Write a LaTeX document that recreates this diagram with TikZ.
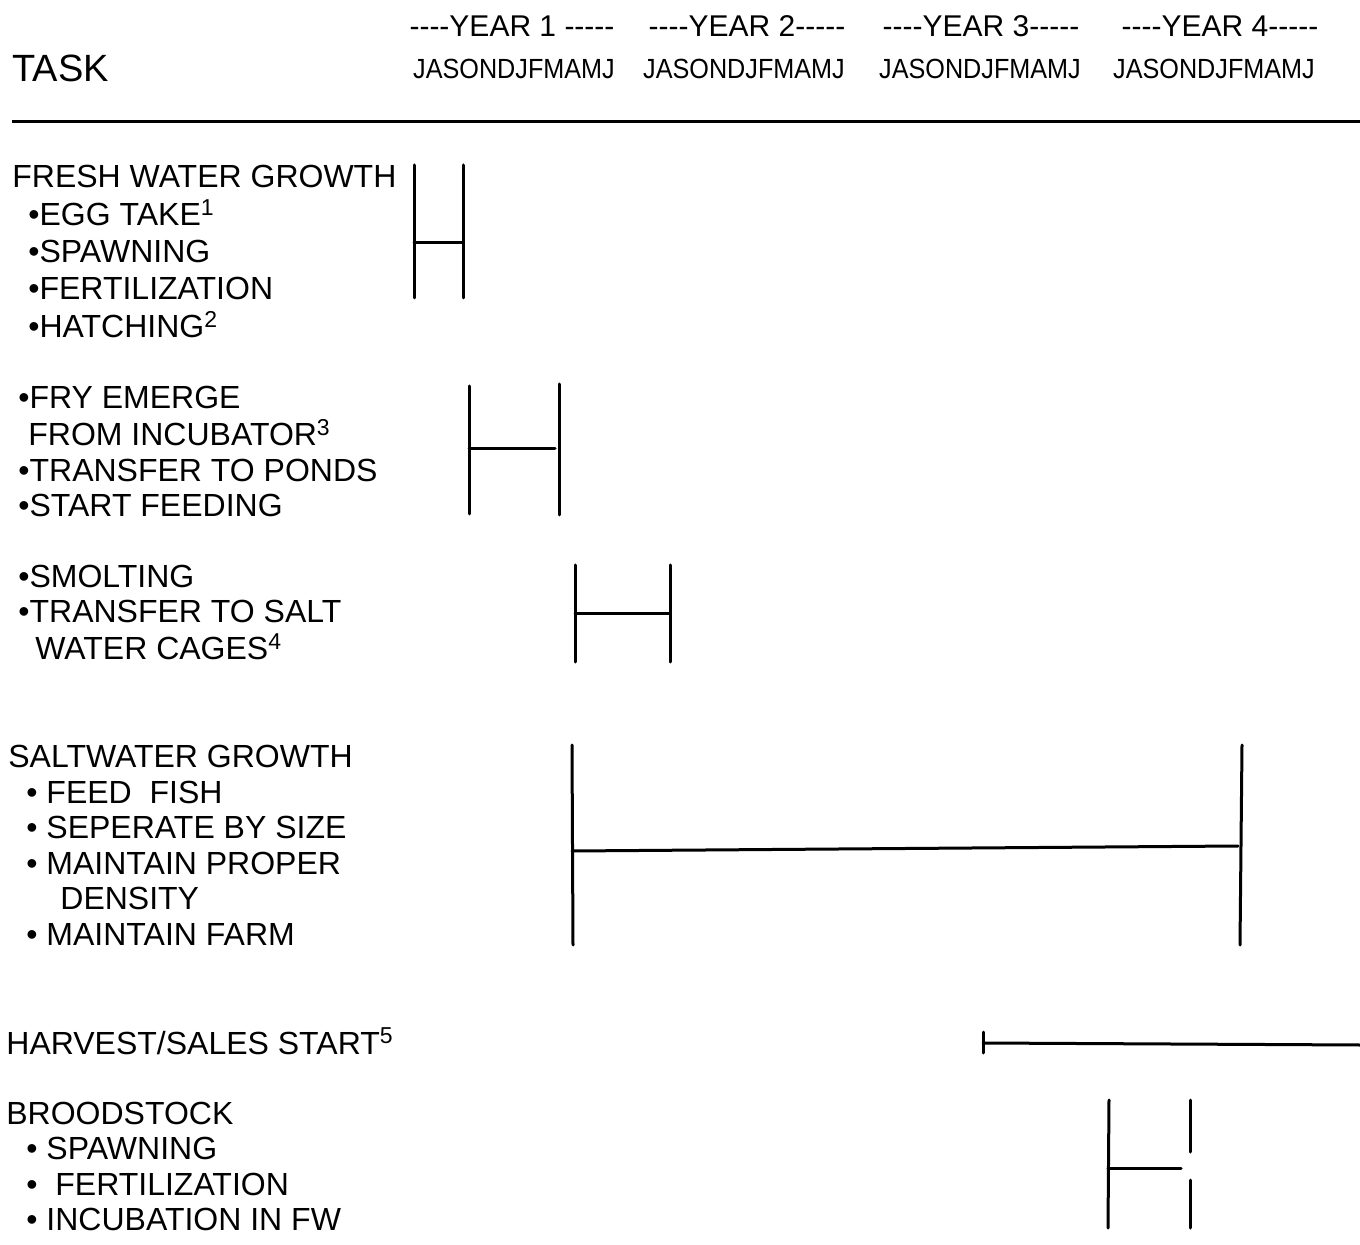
\documentclass[tikz,border=0pt]{standalone}
\usepackage{fontspec}
\setmainfont{Liberation Sans}
\newcommand{\supn}[1]{\raisebox{0.32em}{\fontsize{11.5}{12}\selectfont #1}}
\newcommand{\hy}{-{}}
\begin{document}
\begin{tikzpicture}[x=0.5pt,y=-0.5pt,
  lbl/.style={anchor=base west,inner sep=0pt,font=\fontsize{16}{19}\selectfont},
  hdr/.style={anchor=base,inner sep=0pt,font=\fontsize{15}{17}\selectfont},
  mon/.style={anchor=base,inner sep=0pt,font=\fontsize{12.6}{15}\selectfont},
  bar/.style={line width=1.5pt,line cap=round}]
\useasboundingbox[fill=white] (0,0) rectangle (1360,1245);
% header
\node[anchor=base west,inner sep=0pt,font=\fontsize{19}{22}\selectfont] (task) at (12,82) {TASK};
\node[hdr] (y1) at (512,37) {\hy\hy\hy\hy YEAR 1 \hy\hy\hy\hy\hy};
\node[hdr] (y2) at (747,37) {\hy\hy\hy\hy YEAR 2\hy\hy\hy\hy\hy};
\node[hdr] (y3) at (981,37) {\hy\hy\hy\hy YEAR 3\hy\hy\hy\hy\hy};
\node[hdr] (y4) at (1220,37) {\hy\hy\hy\hy YEAR 4\hy\hy\hy\hy\hy};
\node[mon] (m1) at (514,79) {\scalebox{1}[1.1]{JASONDJFMAMJ}};
\node[mon] (m2) at (744,79) {\scalebox{1}[1.1]{JASONDJFMAMJ}};
\node[mon] (m3) at (980,79) {\scalebox{1}[1.1]{JASONDJFMAMJ}};
\node[mon] (m4) at (1214,79) {\scalebox{1}[1.1]{JASONDJFMAMJ}};
\coordinate (ruleL) at (12,122);
\coordinate (ruleR) at (1360,122);
\draw[line width=1.5pt] (ruleL) -- (ruleR);
% labels
\node[lbl] (t1) at (12,188) {FRESH WATER GROWTH};
\node[lbl] (t2) at (28,226) {•EGG TAKE\supn{1}};
\node[lbl] (t3) at (28,263) {•SPAWNING};
\node[lbl] (t4) at (28,300) {•FERTILIZATION};
\node[lbl] (t5) at (28,338) {•HATCHING\supn{2}};
\node[lbl] (t6) at (18,409) {•FRY EMERGE};
\node[lbl] (t7) at (28,446) {FROM INCUBATOR\supn{3}};
\node[lbl] (t8) at (18,482) {•TRANSFER TO PONDS};
\node[lbl] (t9) at (18,517) {•START FEEDING};
\node[lbl] (t10) at (18,588) {•SMOLTING};
\node[lbl] (t11) at (18,623) {•TRANSFER TO SALT};
\node[lbl] (t12) at (35,660) {WATER CAGES\supn{4}};
\node[lbl] (t13) at (8,767) {SALTWATER GROWTH};
\node[lbl] (t14) at (26,803) {• FEED\ \ FISH};
\node[lbl] (t15) at (26,838) {• SEPERATE BY SIZE};
\node[lbl] (t16) at (26,874) {• MAINTAIN PROPER};
\node[lbl] (t17) at (60,909) {DENSITY};
\node[lbl] (t18) at (26,945) {• MAINTAIN FARM};
\node[lbl] (t19) at (6,1054) {HARVEST/SALES START\supn{5}};
\node[lbl] (t20) at (6,1124) {BROODSTOCK};
\node[lbl] (t21) at (26,1159) {• SPAWNING};
\node[lbl] (t22) at (26,1195) {•\ \ FERTILIZATION};
\node[lbl] (t23) at (26,1230) {• INCUBATION IN FW};
% bars
% fresh water growth
\coordinate (a1) at (414,165); \coordinate (a2) at (414,298);
\coordinate (a3) at (463,165); \coordinate (a4) at (463,298);
\coordinate (a5) at (414,243); \coordinate (a6) at (463,243);
\draw[bar] (a1) -- (a2); \draw[bar] (a3) -- (a4); \draw[bar] (a5) -- (a6);
% fry
\coordinate (b1) at (469,386); \coordinate (b2) at (469,514);
\coordinate (b3) at (559,384); \coordinate (b4) at (559,515);
\coordinate (b5) at (469,449); \coordinate (b6) at (555,449);
\draw[bar] (b1) -- (b2); \draw[bar] (b3) -- (b4); \draw[bar] (b5) -- (b6);
% smolting
\coordinate (c1) at (575,565); \coordinate (c2) at (575,662);
\coordinate (c3) at (670,565); \coordinate (c4) at (670,662);
\coordinate (c5) at (575,614); \coordinate (c6) at (670,614);
\draw[bar] (c1) -- (c2); \draw[bar] (c3) -- (c4); \draw[bar] (c5) -- (c6);
% saltwater
\coordinate (d1) at (572,745); \coordinate (d2) at (573,945);
\coordinate (d3) at (1242,745); \coordinate (d4) at (1240,945);
\coordinate (d5) at (572,851); \coordinate (d6) at (1238,846);
\draw[bar] (d1) -- (d2); \draw[bar] (d3) -- (d4); \draw[bar] (d5) -- (d6);
% harvest
\coordinate (e1) at (983,1032); \coordinate (e2) at (983,1053);
\coordinate (e3) at (983,1043); \coordinate (e4) at (1360,1045);
\draw[bar] (e1) -- (e2); \draw[bar] (e3) -- (e4);
% broodstock
\coordinate (f1) at (1109,1100); \coordinate (f2) at (1108,1228);
\coordinate (f3) at (1190,1100); \coordinate (f4) at (1190,1152);
\coordinate (f5) at (1190,1180); \coordinate (f6) at (1190,1228);
\coordinate (f7) at (1108,1168); \coordinate (f8) at (1181,1168);
\draw[bar] (f1) -- (f2); \draw[bar] (f3) -- (f4); \draw[bar] (f5) -- (f6); \draw[bar] (f7) -- (f8);
\end{tikzpicture}
\end{document}
